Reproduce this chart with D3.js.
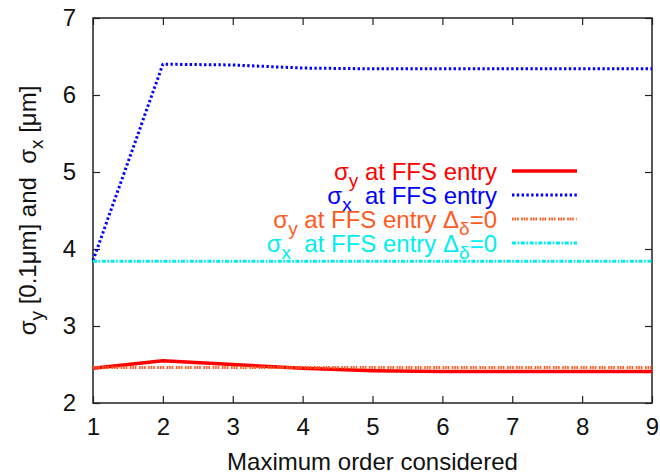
<!DOCTYPE html>
<html>
<head>
<meta charset="utf-8">
<script src="https://cdn.jsdelivr.net/npm/d3@7"></script>
<style>
  html, body { margin: 0; padding: 0; background: #fff; }
  svg { display: block; font-family: "Liberation Sans", Arial, Helvetica, sans-serif; }
  text { white-space: pre; }
</style>
</head>
<body>
<svg id="chart" width="660" height="475"></svg>
<script>
// Beam sizes versus the maximum order of the map
const orders   = [1, 2, 3, 4, 5, 6, 7, 8, 9];
const sigmaY   = [2.45, 2.55, 2.50, 2.45, 2.42, 2.41, 2.41, 2.41, 2.41];
const sigmaX   = [3.85, 6.40, 6.39, 6.35, 6.34, 6.34, 6.34, 6.34, 6.34];
const sigmaY0  = [2.46, 2.46, 2.46, 2.46, 2.46, 2.46, 2.46, 2.46, 2.46];
const sigmaX0  = [3.84, 3.84, 3.84, 3.84, 3.84, 3.84, 3.84, 3.84, 3.84];
const xTicks   = [1, 2, 3, 4, 5, 6, 7, 8, 9];
const yTicks   = [2, 3, 4, 5, 6, 7];

const series = [
  { values: sigmaY,  color: "#ff0000", width: 3.5, dash: null,
    label: [["σ"], ["y", "sub"], [" at FFS entry"]] },
  { values: sigmaX,  color: "#0000ff", width: 3,   dash: "2.4,2.4",
    label: [["σ"], ["x", "sub"], ["  at FFS entry"]] },
  { values: sigmaY0, color: "#ff5a1e", width: 3,   dash: "1.6,0.9,1.6,0.9,1.6,2.6",
    label: [["σ"], ["y", "sub"], [" at FFS entry Δ"], ["δ", "sub"], ["=0"]] },
  { values: sigmaX0, color: "#00eeee", width: 3,   dash: "4,1.6,1.6,1.6",
    label: [["σ"], ["x", "sub"], ["  at FFS entry Δ"], ["δ", "sub"], ["=0"]] }
];

const svg = d3.select("#chart");
const plotLeft = 93, plotRight = 652, plotTop = 18, plotBottom = 403;
const x = d3.scaleLinear().domain([1, 9]).range([plotLeft, plotRight]);
const y = d3.scaleLinear().domain([2, 7]).range([plotBottom, plotTop]);
const tickLen = 7;

// Mirrored inward ticks on all four sides
function styleAxis(g) {
  g.select(".domain").remove();
  g.selectAll(".tick line").attr("stroke", "#222").attr("stroke-width", 1.2);
  g.selectAll(".tick text").attr("fill", "#111").attr("font-size", 24)
    .attr("font-family", '"Liberation Sans", Arial, Helvetica, sans-serif');
}
svg.append("g").attr("transform", `translate(0,${plotBottom})`)
  .call(d3.axisBottom(x).tickValues(xTicks).tickFormat(d3.format("d"))
    .tickSizeInner(-tickLen).tickSizeOuter(0).tickPadding(15))
  .call(styleAxis);
svg.append("g").attr("transform", `translate(0,${plotTop})`)
  .call(d3.axisTop(x).tickValues(xTicks).tickFormat("")
    .tickSizeInner(-tickLen).tickSizeOuter(0))
  .call(styleAxis);
svg.append("g").attr("transform", `translate(${plotLeft},0)`)
  .call(d3.axisLeft(y).tickValues(yTicks).tickFormat(d3.format("d"))
    .tickSizeInner(-tickLen).tickSizeOuter(0).tickPadding(17))
  .call(styleAxis);
svg.append("g").attr("transform", `translate(${plotRight},0)`)
  .call(d3.axisRight(y).tickValues(yTicks).tickFormat("")
    .tickSizeInner(-tickLen).tickSizeOuter(0))
  .call(styleAxis);

// Plot frame
svg.append("rect")
  .attr("x", plotLeft).attr("y", plotTop)
  .attr("width", plotRight - plotLeft).attr("height", plotBottom - plotTop)
  .attr("fill", "none").attr("stroke", "#222").attr("stroke-width", 1.5);

// Data lines
const line = d3.line().x((d, i) => x(orders[i])).y(d => y(d));
const plot = svg.append("g");
series.forEach(s => {
  plot.append("path")
    .datum(s.values)
    .attr("d", line)
    .attr("fill", "none")
    .attr("stroke", s.color)
    .attr("stroke-width", s.width)
    .attr("stroke-dasharray", s.dash)
    .attr("stroke-linejoin", "round");
});

// Text with subscripts: each subscript is lowered, the next span returns to the baseline
function rich(textSel, parts, size, subSize, subShift) {
  let lowered = false;
  parts.forEach(([str, kind]) => {
    const t = textSel.append("tspan").text(str);
    if (kind === "sub") {
      t.attr("font-size", subSize).attr("dy", lowered ? 0 : subShift);
      lowered = true;
    } else {
      t.attr("font-size", size);
      if (lowered) t.attr("dy", -subShift);
      lowered = false;
    }
  });
}

// Legend
const legendRows = [171, 195, 219, 243];
series.forEach((s, i) => {
  const ly = legendRows[i];
  const t = svg.append("text")
    .attr("x", 497).attr("y", ly + 8.5)
    .attr("text-anchor", "end")
    .attr("fill", s.color);
  rich(t, s.label, 24, 19, 7);
  svg.append("line")
    .attr("x1", 512).attr("x2", 577)
    .attr("y1", ly).attr("y2", ly)
    .attr("stroke", s.color)
    .attr("stroke-width", s.width)
    .attr("stroke-dasharray", s.dash);
});

// Axis titles
svg.append("text")
  .attr("x", (plotLeft + plotRight) / 2).attr("y", 470)
  .attr("text-anchor", "middle")
  .attr("font-size", 24).attr("fill", "#111")
  .text("Maximum order considered");

const yt = svg.append("text")
  .attr("transform", `translate(36,${(plotTop + plotBottom) / 2}) rotate(-90)`)
  .attr("text-anchor", "middle")
  .attr("fill", "#111");
rich(yt, [["σ"], ["y", "sub"], [" [0.1μm] and  σ"], ["x", "sub"], [" [μm]"]], 24, 19, 7);
</script>
</body>
</html>
